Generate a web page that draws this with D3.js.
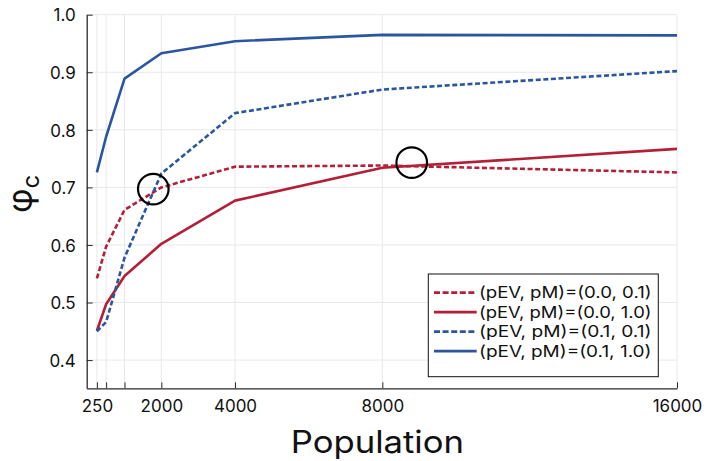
<!DOCTYPE html>
<html>
<head>
<meta charset="utf-8">
<script src="https://cdn.jsdelivr.net/npm/d3@7"></script>
<style>
  html, body { margin: 0; padding: 0; background: #fff; }
  svg { display: block; font-family: Inter, "Liberation Sans", Arial, sans-serif; }
</style>
</head>
<body>
<svg id="chart" width="704" height="461"></svg>
<script>
// ---- data ----
const populations = [250, 500, 1000, 2000, 4000, 8000, 16000];
const seriesNames = ["(pEV, pM)=(0.0, 0.1)", "(pEV, pM)=(0.0, 1.0)", "(pEV, pM)=(0.1, 0.1)", "(pEV, pM)=(0.1, 1.0)"];
const pev00_pm01 = [0.542, 0.597, 0.661, 0.700, 0.736, 0.738, 0.726];
const pev00_pm10 = [0.451, 0.497, 0.546, 0.602, 0.677, 0.734, 0.767];
const pev01_pm01 = [0.450, 0.466, 0.578, 0.724, 0.829, 0.870, 0.902];
const pev01_pm10 = [0.726, 0.788, 0.889, 0.933, 0.954, 0.965, 0.964];
const xTickValues = [250, 500, 1000, 2000, 4000, 8000, 16000];
const xTickLabels = ["250", "", "", "2000", "4000", "8000", "16000"];
const yTickValues = [0.4, 0.5, 0.6, 0.7, 0.8, 0.9, 1.0];
const yTickLabels = ["0.4", "0.5", "0.6", "0.7", "0.8", "0.9", "1.0"];
const circlePops = [1781, 8798];
const circleVals = [0.697, 0.743];
const xTitle = "Population";

// ---- styling ----
const FONT = "Inter, 'Liberation Sans', Arial, sans-serif";
const RED = "#b41f38", BLUE = "#2b569f";
const seriesData = [pev00_pm01, pev00_pm10, pev01_pm01, pev01_pm10];
const seriesColor = [RED, RED, BLUE, BLUE];
const seriesDash = ["5,2.6", null, "5,2.6", null];

const svg = d3.select("#chart");
const pL = 86.7, pR = 677, pT = 14.7, pB = 388.3;

const x = d3.scaleLinear().domain([-27, 16000]).range([pL, pR]);
const y = d3.scaleLinear().domain([0.351, 1.0]).range([pB, pT]);

// grid
const grid = svg.append("g").attr("stroke", "#e8e8e8").attr("stroke-width", 1);
grid.selectAll("line.gx").data(xTickValues).join("line").attr("class", "gx")
  .attr("x1", d => x(d)).attr("x2", d => x(d)).attr("y1", pT).attr("y2", pB);
grid.selectAll("line.gy").data(yTickValues).join("line").attr("class", "gy")
  .attr("x1", pL).attr("x2", pR).attr("y1", d => y(d)).attr("y2", d => y(d));

// axes
const axisColor = "#2a2a2a";
const xAxis = d3.axisBottom(x).tickValues(xTickValues)
  .tickFormat((d, i) => xTickLabels[i]).tickSizeInner(-6).tickSizeOuter(0).tickPadding(11.3);
const gx = svg.append("g").attr("transform", `translate(0,${pB})`).call(xAxis);
const yAxis = d3.axisLeft(y).tickValues(yTickValues)
  .tickFormat((d, i) => yTickLabels[i]).tickSizeInner(-6).tickSizeOuter(0).tickPadding(11);
const gy = svg.append("g").attr("transform", `translate(${pL},0)`).call(yAxis);
[gx, gy].forEach(g => {
  g.select(".domain").attr("stroke", axisColor).attr("stroke-width", 1.3);
  g.selectAll(".tick line").attr("stroke", axisColor).attr("stroke-width", 1);
  g.selectAll(".tick text").attr("fill", "#111").attr("font-size", 17)
    .attr("font-family", FONT);
});
gy.selectAll(".tick text").attr("dy", "0.37em");
gx.selectAll(".tick text").attr("dy", "0.72em");

// lines
const line = d3.line().x((d, i) => x(populations[i])).y(d => y(d));
seriesData.forEach((s, k) => {
  svg.append("path").datum(s)
    .attr("d", line)
    .attr("fill", "none")
    .attr("stroke", seriesColor[k])
    .attr("stroke-width", 2.6)
    .attr("stroke-dasharray", seriesDash[k])
    .attr("stroke-linejoin", "round");
});

// circles
svg.selectAll("circle.mark").data(circlePops).join("circle").attr("class", "mark")
  .attr("cx", d => x(d)).attr("cy", (d, i) => y(circleVals[i]))
  .attr("r", 15.3).attr("fill", "none").attr("stroke", "#000").attr("stroke-width", 2.2);

// legend
const lg = svg.append("g");
lg.append("rect").attr("x", 428.3).attr("y", 274).attr("width", 230).attr("height", 102.7)
  .attr("fill", "#fff").attr("stroke", "#111").attr("stroke-width", 1);
seriesNames.forEach((name, k) => {
  const cy = 292.7 + k * 19.45;
  lg.append("line").attr("x1", 434).attr("x2", 476.7).attr("y1", cy).attr("y2", cy)
    .attr("stroke", seriesColor[k]).attr("stroke-width", 2.8)
    .attr("stroke-dasharray", seriesDash[k] ? "6,2.6" : null);
  lg.append("text").attr("x", 479).attr("y", cy).attr("dy", "0.36em")
    .attr("font-size", 16).attr("fill", "#111").attr("font-family", FONT)
    .attr("textLength", 172.5).attr("lengthAdjust", "spacingAndGlyphs")
    .text(name);
});

// axis titles
svg.append("text").attr("x", 290.7).attr("y", 453.3)
  .attr("font-size", 31.2).attr("fill", "#111").attr("font-family", FONT)
  .attr("textLength", 173.3).attr("lengthAdjust", "spacingAndGlyphs")
  .text(xTitle);

const yl = svg.append("text")
  .attr("transform", "translate(31.5,213) rotate(-90)")
  .attr("fill", "#111").attr("font-size", 34).attr("font-family", FONT);
yl.append("tspan").text("φ");
yl.append("tspan").attr("font-size", 24).attr("dy", 7).text("c");
</script>
</body>
</html>
